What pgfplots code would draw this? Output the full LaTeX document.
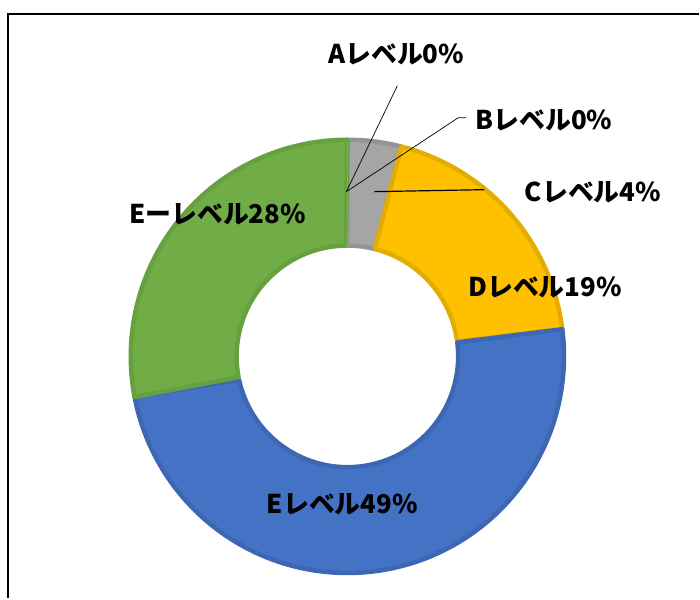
\documentclass[border=0pt]{standalone}
\usepackage{fontspec}
\usepackage{pgfplots}
\pgfplotsset{compat=1.18}
\newfontfamily\cjk{Noto Sans CJK JP}
\definecolor{cgray}{HTML}{A5A5A5}\definecolor{cgrayd}{HTML}{959595}
\definecolor{cyel}{HTML}{FFC000}\definecolor{cyeld}{HTML}{E3AC00}
\definecolor{cblue}{HTML}{4472C4}\definecolor{cblued}{HTML}{3D67B3}
\definecolor{cgreen}{HTML}{70AD47}\definecolor{cgreend}{HTML}{66A03F}
\definecolor{corange}{HTML}{ED7D31}
% segment: start percent, percent, fill, border
\newcommand{\donutseg}[4]{%
\addplot[fill=#3, draw=#4, line width=4.5bp, line join=round, domain=0:2, samples=241, variable=\t]
 ({348+(\t<=1 ? 217 : 111)*sin(3.6*(#1+#2*(\t<=1 ? \t : 2-\t)))},
  {357-(\t<=1 ? 217 : 111)*cos(3.6*(#1+#2*(\t<=1 ? \t : 2-\t)))}) -- cycle;}
\begin{document}
\begin{tikzpicture}
\begin{axis}[width=700bp,height=599bp,scale only axis,
  xmin=0,xmax=700,ymin=0,ymax=599,y dir=reverse,hide axis,clip=false]
\fill[white] (axis cs:0,0) rectangle (axis cs:700,599);
\draw[line width=2.5bp,black] (axis cs:8,599) -- (axis cs:8,14) -- (axis cs:700,14);
% data: A 0, B 0, C 4, D 19, E 49, E- 28 (percent)
\donutseg{0}{4}{cgray}{cgrayd}
\donutseg{4}{19}{cyel}{cyeld}
\donutseg{23}{49}{cblue}{cblued}
\donutseg{72}{28}{cgreen}{cgreend}
\addplot[corange, line width=1bp] coordinates {(348,246) (348,140)};
% leader lines
\draw[black, line width=0.7bp] (axis cs:398,86) -- (axis cs:347,192);
\draw[black, line width=0.7bp] (axis cs:467,118) -- (axis cs:459,118) -- (axis cs:347,192);
\draw[black, line width=1.2bp] (axis cs:485,190) -- (axis cs:375,192);
\tikzset{lab/.style={font=\cjk\bfseries\fontsize{26}{30}\selectfont, inner sep=0pt, anchor=center}}
\node[lab] at (axis cs:397,54) {Aレベル0\%};
\node[lab] at (axis cs:545,120) {Bレベル0\%};
\node[lab] at (axis cs:594,193) {Cレベル4\%};
\node[lab] at (axis cs:546,288) {Dレベル19\%};
\node[lab] at (axis cs:218,215) {Eーレベル28\%};
\node[lab] at (axis cs:343,505) {Eレベル49\%};
\end{axis}
\end{tikzpicture}
\end{document}
